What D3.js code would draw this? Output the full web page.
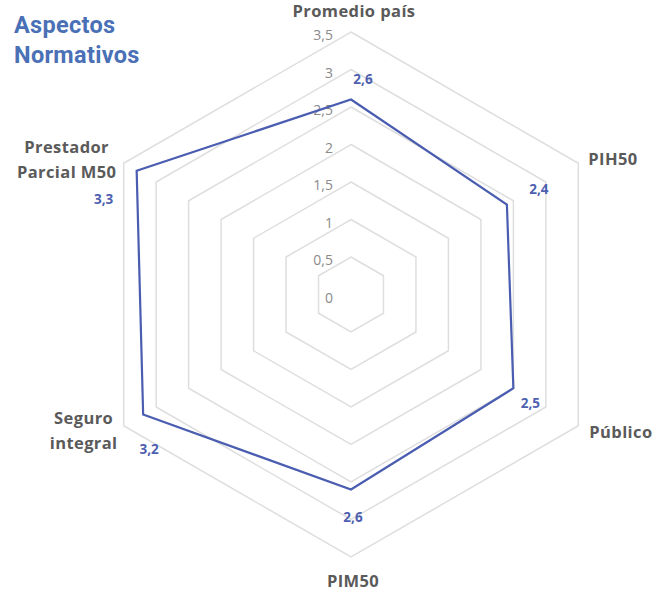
<!DOCTYPE html>
<html>
<head>
<meta charset="utf-8">
<script src="https://cdn.jsdelivr.net/npm/d3@7"></script>
<style>
  html, body { margin: 0; padding: 0; background: #ffffff; }
  svg { display: block; }
</style>
</head>
<body>
<script>
// Radar data
const categories = ["Promedio país", "PIH50", "Público", "PIM50", "Seguro integral", "Prestador Parcial M50"];
const categoryLines = [["Promedio país"], ["PIH50"], ["Público"], ["PIM50"], ["Seguro", "integral"], ["Prestador", "Parcial M50"]];
const values = [2.6, 2.4, 2.5, 2.6, 3.2, 3.3];
const ticks = [0, 0.5, 1, 1.5, 2, 2.5, 3, 3.5];
const tickLabels = ["0", "0,5", "1", "1,5", "2", "2,5", "3", "3,5"];
const chartTitle = ["Aspectos", "Normativos"];

const W = 669, H = 592;
const cx = 351, cy = 294.5;

// label placement relative to outer ring vertex / data vertex
const catLabelStyle = [
  { dx: 3,   dy: -22, anchor: "middle" },
  { dx: 10,  dy: -5,  anchor: "start" },
  { dx: 11,  dy: 6,   anchor: "start" },
  { dx: 2,   dy: 23,  anchor: "middle" },
  { dx: -40, dy: 4,   anchor: "middle" },
  { dx: -57, dy: -4,  anchor: "middle" }
];
const valLabelStyle = [
  { dx: 12, dy: -21 },
  { dx: 32, dy: -16 },
  { dx: 17, dy: 15 },
  { dx: 2,  dy: 27 },
  { dx: 6,  dy: 34 },
  { dx: -33, dy: 28 }
];

const svg = d3.select("body").append("svg")
  .attr("width", W).attr("height", H);

const r = d3.scaleLinear().domain([0, 3.5]).range([0, 262.5]);
const angle = d3.scalePoint().domain(categories).range([0, 2 * Math.PI * 5 / 6]);

const pt = (cat, v) => {
  const a = angle(cat);
  return [cx + r(v) * Math.sin(a), cy - r(v) * Math.cos(a)];
};

const fmt = v => String(v).replace(".", ",");
const labelFont = "'Open Sans', Lato, sans-serif";

// grid rings
const ring = d3.line().curve(d3.curveLinearClosed);
svg.append("g").selectAll("path")
  .data(ticks.filter(t => t > 0))
  .join("path")
  .attr("d", t => ring(categories.map(c => pt(c, t))))
  .attr("fill", "none")
  .attr("stroke", "#dedede")
  .attr("stroke-width", 1.5);

// tick labels
svg.append("g").selectAll("text")
  .data(ticks)
  .join("text")
  .attr("x", cx - 18)
  .attr("y", t => cy - r(t) + 2.5)
  .attr("text-anchor", "end")
  .attr("dominant-baseline", "central")
  .attr("font-family", labelFont)
  .attr("font-size", 14)
  .attr("fill", "#8a8a8a")
  .text((t, i) => tickLabels[i]);

// data polygon
svg.append("path")
  .attr("d", ring(categories.map((c, i) => pt(c, values[i]))))
  .attr("fill", "none")
  .attr("stroke", "#4a5db0")
  .attr("stroke-width", 2.2)
  .attr("stroke-linejoin", "miter");

// value labels
svg.append("g").selectAll("text")
  .data(values)
  .join("text")
  .attr("x", (v, i) => pt(categories[i], v)[0] + valLabelStyle[i].dx)
  .attr("y", (v, i) => pt(categories[i], v)[1] + valLabelStyle[i].dy)
  .attr("text-anchor", "middle")
  .attr("dominant-baseline", "central")
  .attr("font-family", labelFont)
  .attr("font-weight", "bold")
  .attr("font-size", 13.5)
  .attr("fill", "#4f5fb0")
  .text(fmt);

// category labels
const cat = svg.append("g").selectAll("text")
  .data(categories)
  .join("text")
  .attr("text-anchor", (c, i) => catLabelStyle[i].anchor)
  .attr("font-family", labelFont)
  .attr("font-weight", "bold")
  .attr("font-size", 16.5)
  .attr("letter-spacing", 0.4)
  .attr("fill", "#5a5a5a");

cat.each(function (c, i) {
  const [x, y] = pt(c, 3.5);
  const s = catLabelStyle[i];
  const lines = categoryLines[i];
  const lh = 25;
  d3.select(this).selectAll("tspan")
    .data(lines)
    .join("tspan")
    .attr("x", x + s.dx)
    .attr("y", (l, j) => y + s.dy + (j - (lines.length - 1) / 2) * lh)
    .attr("dominant-baseline", "central")
    .text(l => l);
});

// title
svg.append("text")
  .attr("font-family", "Roboto, sans-serif")
  .attr("font-weight", "bold")
  .attr("font-size", 23.5)
  .attr("letter-spacing", 0.3)
  .attr("fill", "#4a70b6")
  .selectAll("tspan")
  .data(chartTitle)
  .join("tspan")
  .attr("x", 14)
  .attr("y", (d, i) => 33 + i * 30)
  .text(d => d);
</script>
</body>
</html>
